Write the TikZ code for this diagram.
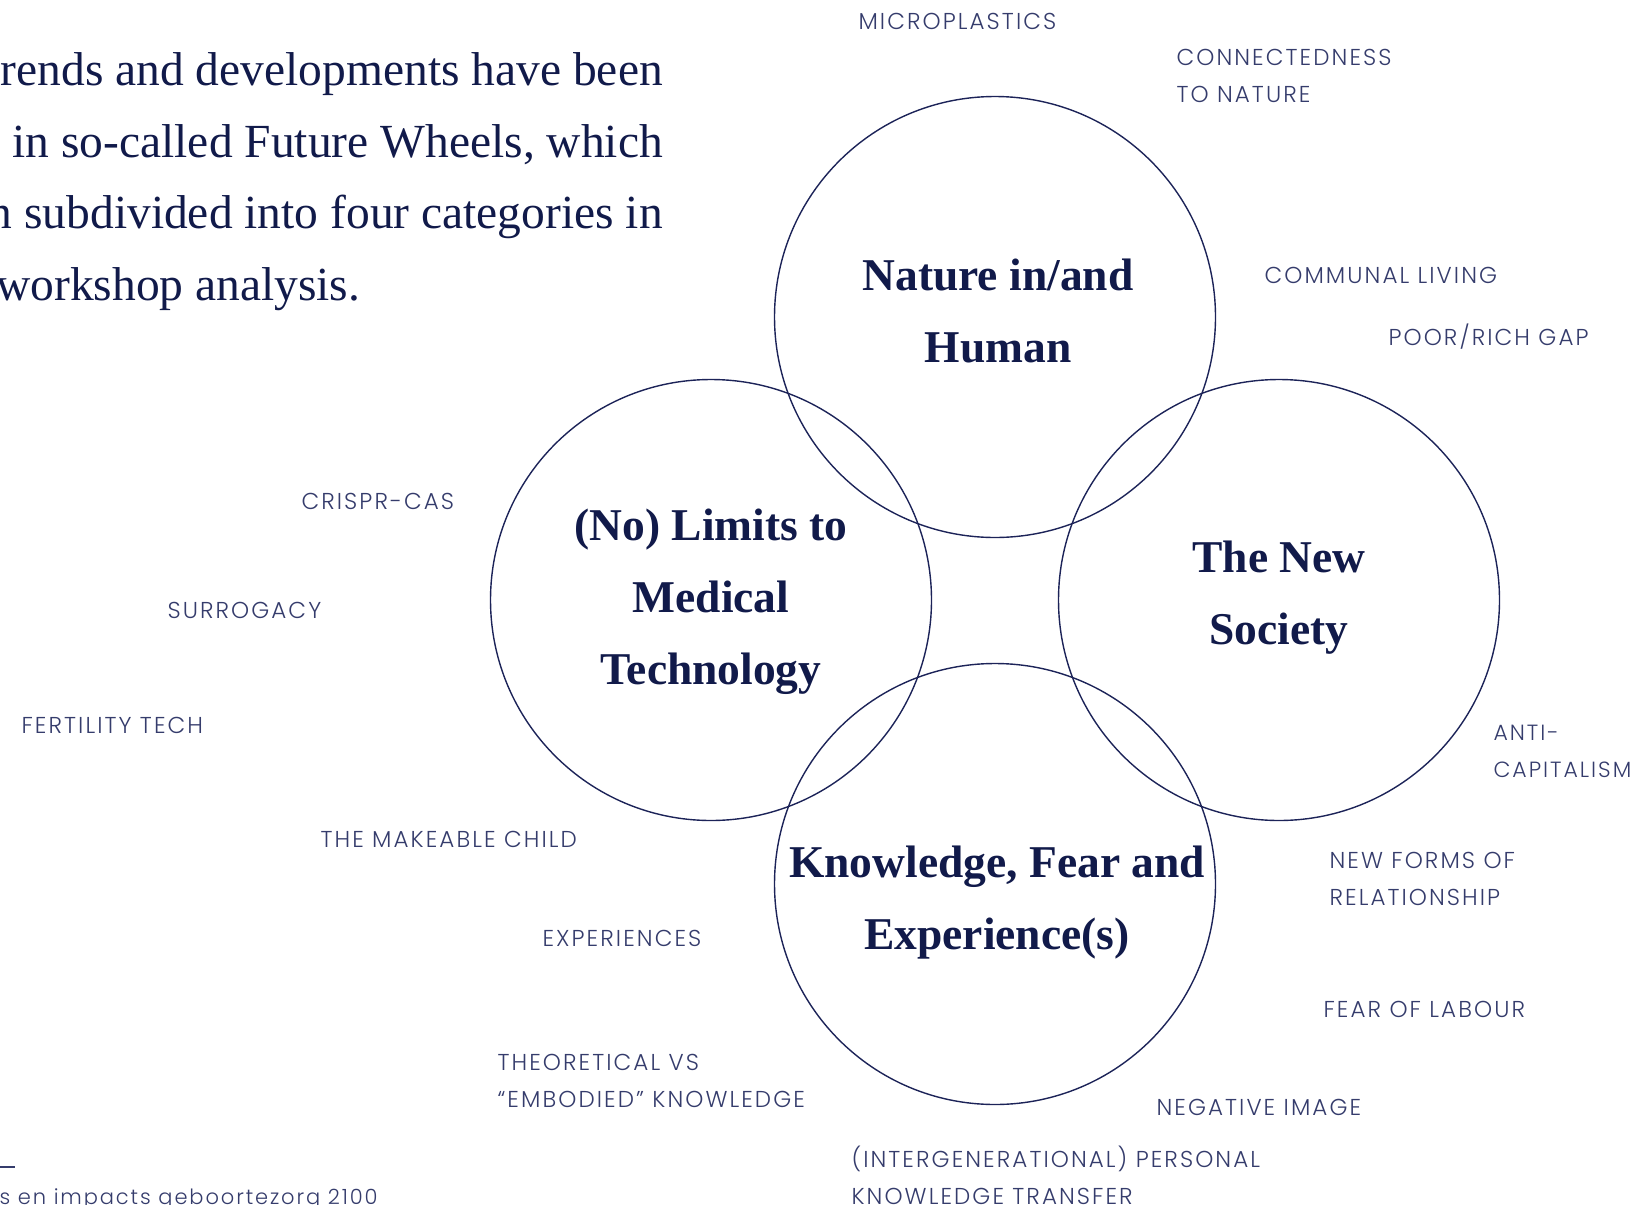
\documentclass[tikz,border=0pt]{standalone}
\usepackage{fontspec}
\setmainfont{Liberation Serif}
\newfontfamily\labfamily[LetterSpace=9]{Poppins Light}

\definecolor{navy}{HTML}{1C2358}
\definecolor{ink}{HTML}{111A4A}
\definecolor{labink}{HTML}{353C6C}

\newcommand{\hubfont}{\bfseries\fontsize{45.5}{72}\selectfont}
\newcommand{\introfont}{\fontsize{47.5}{72}\selectfont}
\newcommand{\labfont}{\labfamily\fontsize{23}{37}\selectfont}

\begin{document}
\begin{tikzpicture}[x=1pt, y=-1pt,
    wheel/.style={draw=navy, line width=1.4pt, circle, minimum size=441pt, inner sep=0pt},
    hub/.style={text=ink, align=center, font=\hubfont},
    lab/.style={text=labink, anchor=west, align=left, font=\labfont},
    intro/.style={text=ink, font=\introfont, inner sep=0pt}]

    \useasboundingbox (0,0) rectangle (1639,1205);

    % the four wheels
    \node [wheel] (nature)  at (995, 317) {};
    \node [wheel] (medical) at (711, 600) {};
    \node [wheel] (society) at (1279, 600) {};
    \node [wheel] (knowing) at (995, 884) {};

    \node [hub] (natureT)  at (998, 311) {Nature in/and\\Human};
    \node [hub] (medicalT) at (711, 602) {(No) Limits to\\Medical\\Technology};
    \node [hub] (societyT) at (1279, 598) {The New\\Society};
    \node [hub] (knowingT) at (997, 903) {Knowledge, Fear and\\Experience(s)};

    % intro text
    \node [intro, anchor=base east] (introA) at (663, 85) {rends and developments have been};
    \node [intro, anchor=base east] (introB) at (663, 157) {l in so-called Future Wheels, which};
    \node [intro, anchor=base east] (introC) at (663, 228) {n subdivided into four categories in};
    \node [intro, anchor=base west] (introD) at (-4, 300) {workshop analysis.};

    % labels round the wheels
    \node [lab] (microplastics) at (855, 21) {MICROPLASTICS};
    \node [lab] (connected)     at (1173, 76) {CONNECTEDNESS\\TO NATURE};
    \node [lab] (communal)      at (1261, 275) {COMMUNAL LIVING};
    \node [lab] (gap)           at (1385, 337) {POOR/RICH GAP};
    \node [lab] (crispr)        at (298, 501) {CRISPR-CAS};
    \node [lab] (surrogacy)     at (164, 610) {SURROGACY};
    \node [lab] (fertility)     at (18, 725) {FERTILITY TECH};
    \node [lab, font=\labfamily\fontsize{22}{37}\selectfont] (anticap) at (1490, 751) {ANTI-\\CAPITALISM};
    \node [lab] (makeable)      at (317, 839) {THE MAKEABLE CHILD};
    \node [lab] (relations)     at (1326, 879) {NEW FORMS OF\\RELATIONSHIP};
    \node [lab] (experiences)   at (539, 938) {EXPERIENCES};
    \node [lab] (labour)        at (1320, 1009) {FEAR OF LABOUR};
    \node [lab] (embodied)      at (494, 1081) {THEORETICAL VS\\“EMBODIED” KNOWLEDGE};
    \node [lab] (negative)      at (1153, 1107) {NEGATIVE IMAGE};
    \node [lab] (transfer)      at (848, 1175) {(INTERGENERATIONAL) PERSONAL\\KNOWLEDGE TRANSFER};

    % footnote
    \coordinate (dashA) at (0, 1167);
    \coordinate (dashB) at (15, 1167);
    \draw [labink, line width=1.2pt] (dashA) -- (dashB);
    \node [lab, font=\labfamily\fontsize{21}{30}\selectfont] (source) at (-4, 1199) {s en impacts geboortezorg 2100};

\end{tikzpicture}
\end{document}
